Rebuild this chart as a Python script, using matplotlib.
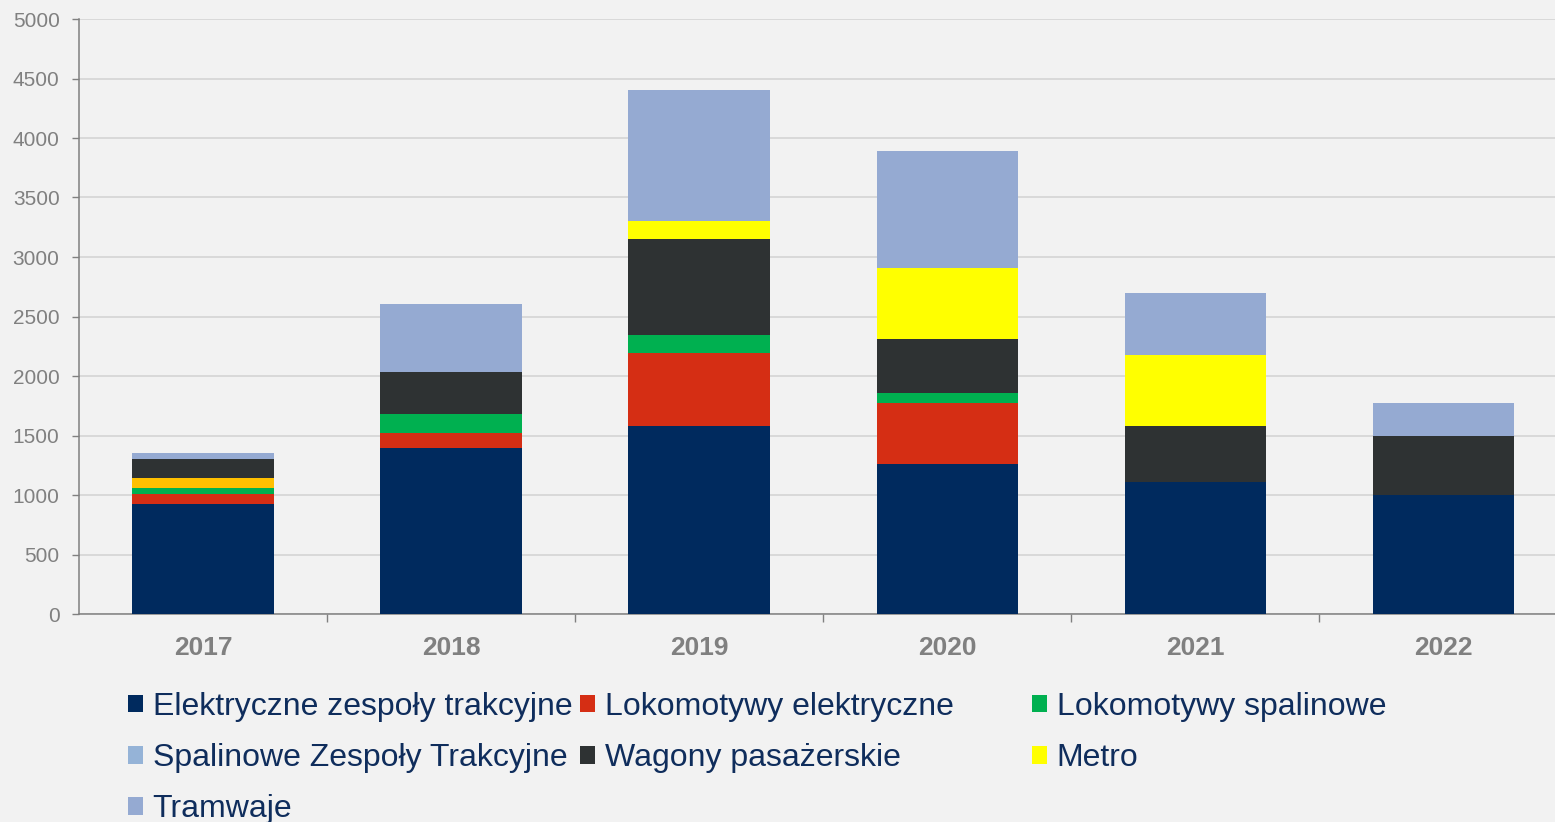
import numpy as np
import matplotlib
matplotlib.use("Agg")
import matplotlib.pyplot as plt
from matplotlib.patches import Patch

plt.rcParams['font.family'] = ['Liberation Sans', 'DejaVu Sans']

years = ['2017', '2018', '2019', '2020', '2021', '2022']

ezt = [924, 1398, 1580, 1260, 1107, 997]          # Elektryczne zespoły trakcyjne
lok_el = [82, 126, 611, 511, 0, 0]                # Lokomotywy elektryczne
lok_sp = [53, 154, 151, 89, 0, 0]                 # Lokomotywy spalinowe
szt = [81, 0, 0, 0, 0, 0]                         # Spalinowe Zespoły Trakcyjne
wagony = [162, 356, 807, 448, 470, 496]           # Wagony pasażerskie
metro = [0, 0, 151, 599, 597, 0]                  # Metro
tramwaje = [48, 568, 1100, 986, 523, 278]         # Tramwaje

labels = ['Elektryczne zespoły trakcyjne', 'Lokomotywy elektryczne', 'Lokomotywy spalinowe',
          'Spalinowe Zespoły Trakcyjne', 'Wagony pasażerskie', 'Metro', 'Tramwaje']
colors = ['#002A5E', '#D52E14', '#00B050', '#95B3D7', '#2E3233', '#FFFF00', '#95AAD2']
szt_2017_color = '#FFC000'

series = [ezt, lok_el, lok_sp, szt, wagony, metro, tramwaje]

bg = '#F2F2F2'
fig = plt.figure(figsize=(15.55, 8.22), dpi=100, facecolor=bg)
ax = fig.add_axes([79/1555, 1 - 614/822, 1 - 79/1555, (614 - 19)/822])
ax.set_facecolor(bg)

x = np.arange(len(years))
bottom = np.zeros(len(years))
for i, vals in enumerate(series):
    cols = [colors[i]] * len(years)
    if labels[i] == 'Spalinowe Zespoły Trakcyjne':
        cols[0] = szt_2017_color
    ax.bar(x, vals, width=0.57, bottom=bottom, color=cols, linewidth=0, zorder=3)
    bottom += np.array(vals)

ax.set_ylim(0, 5000)
ax.set_xlim(-0.5, 5.45)
ax.set_yticks(np.arange(0, 5001, 500))
ax.yaxis.grid(True, color='#D9D9D9', linewidth=1.4, zorder=0)
ax.set_axisbelow(True)

ax.set_xticks(x)
ax.set_xticklabels(years, fontsize=19, fontweight='bold', color='#808080')
ax.set_xticks(np.arange(0.5, 5.5, 1), minor=True)
ax.tick_params(axis='x', which='major', length=0, pad=16)
ax.tick_params(axis='x', which='minor', length=6, width=1, color='#808080')
ax.tick_params(axis='y', length=5, width=1, color='#808080', labelsize=15,
               labelcolor='#808080', pad=9)

for s in ['top', 'right']:
    ax.spines[s].set_visible(False)
for s in ['left', 'bottom']:
    ax.spines[s].set_color('#808080')
    ax.spines[s].set_linewidth(1.1)

handles = [Patch(facecolor=c, edgecolor='none') for c in colors]
columns = [[0, 3, 6], [1, 4], [2, 5]]
col_x = [128, 580, 1032]
for cx, idx in zip(col_x, columns):
    leg = fig.legend([handles[k] for k in idx], [labels[k] for k in idx],
                     loc='upper left', bbox_to_anchor=(cx/1555, 1 - 692/822),
                     frameon=False, fontsize=23, handlelength=0.47, handleheight=0.47,
                     handletextpad=0.3, labelspacing=0.66, borderpad=0, borderaxespad=0,
                     labelcolor='#0F2D5C')

fig.savefig('out.png', dpi=100, facecolor=bg)
